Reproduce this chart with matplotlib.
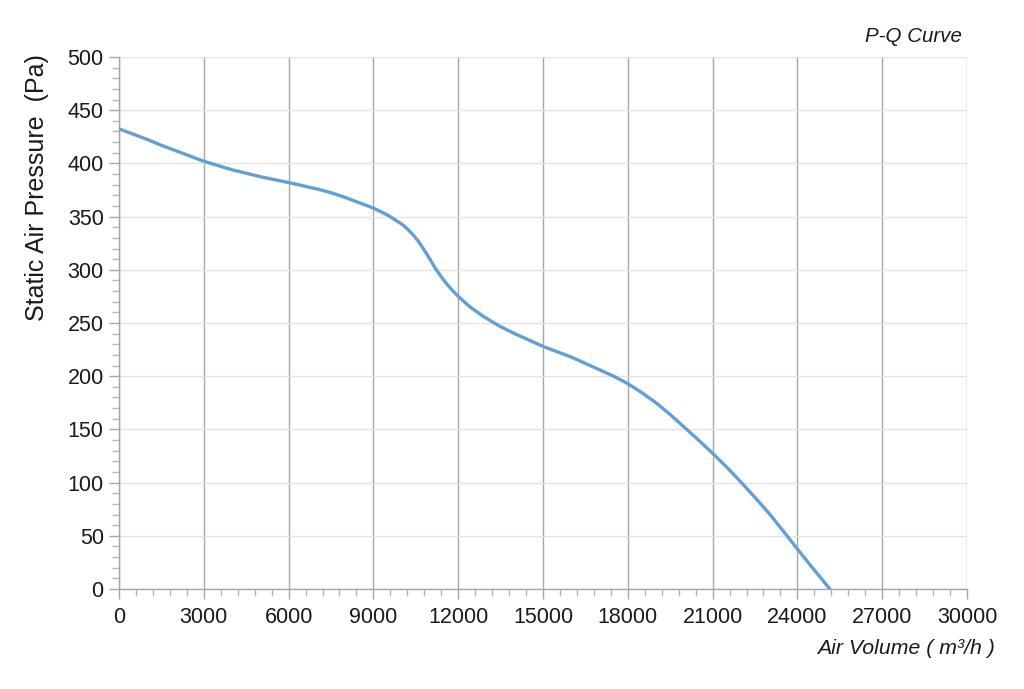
import matplotlib.pyplot as plt
from matplotlib.ticker import MultipleLocator

plt.rcParams['font.family'] = ['Liberation Sans', 'DejaVu Sans']

# air volume (m3/h) and static pressure (Pa)
air_volume = [0, 500, 1000, 1500, 2000, 2500, 3000, 4000, 5000, 6000, 7000, 7500, 8000, 8500, 9000, 9500,
              10000, 10200, 10400, 10600, 10800, 11000, 11200, 11400, 11600, 11800, 12000, 12400,
              12900, 13500, 14000, 15000, 16000, 17000, 17500, 18000, 18500, 19000, 19500, 20000,
              20500, 21000, 21500, 22000, 22500, 23000, 23500, 24000, 24500, 25150]
pressure = [432.5, 427.5, 422.5, 417, 412, 407, 402, 394, 387.5, 382, 376, 372.5, 368, 363, 358, 351.5,
            343, 338.5, 333, 326.5, 318.5, 310, 301, 293.5, 286.5, 280.5, 275, 265.5,
            256, 246.5, 240, 228, 218, 206, 200, 193, 184.5, 175, 164, 152,
            140, 127.5, 114.5, 100.5, 86, 71, 54.5, 37.5, 21, 0]

x_ticks = list(range(0, 30001, 3000))
y_ticks = list(range(0, 501, 50))

fig = plt.figure(figsize=(10.24, 6.89), dpi=100)
ax = fig.add_axes([119/1024, 100/689, 848/1024, 532/689])

ax.plot(air_volume, pressure, color='#62a0d4', lw=2.4, solid_capstyle='round',
        solid_joinstyle='round', zorder=3)

ax.set_xlim(0, 30000)
ax.set_ylim(0, 500)
ax.set_xticks(x_ticks)
ax.set_yticks(y_ticks)
ax.xaxis.set_minor_locator(MultipleLocator(600))
ax.yaxis.set_minor_locator(MultipleLocator(10))

ax.grid(axis='y', which='major', color='#e2e2e2', lw=1.0)
ax.grid(axis='x', which='major', color='#a6a6a6', lw=1.0)
ax.set_axisbelow(True)

for s in ['top', 'right']:
	ax.spines[s].set_visible(False)
for s in ['left', 'bottom']:
	ax.spines[s].set_color('#a6a6a6')
	ax.spines[s].set_linewidth(1.0)

ax.tick_params(which='major', length=7, width=1, color='#a6a6a6', labelsize=15.5, labelcolor='#1a1a1a')
ax.tick_params(which='minor', length=5, width=1, color='#b5b5b5')
ax.tick_params(axis='x', pad=6)
ax.tick_params(axis='y', pad=4)

fig.text(37/1024, 1 - 188/689, 'Static Air Pressure  (Pa)', rotation=90, fontsize=18,
         ha='center', va='center', color='#1a1a1a')
fig.text(962/1024, 1 - 36/689, 'P-Q Curve', fontsize=14.8, style='italic',
         ha='right', va='center', color='#1a1a1a')
fig.text(995/1024, 1 - 649/689, 'Air Volume ( m³/h )', fontsize=15.3, style='italic',
         ha='right', va='center', color='#1a1a1a')

fig.savefig('out.png', dpi=100)
